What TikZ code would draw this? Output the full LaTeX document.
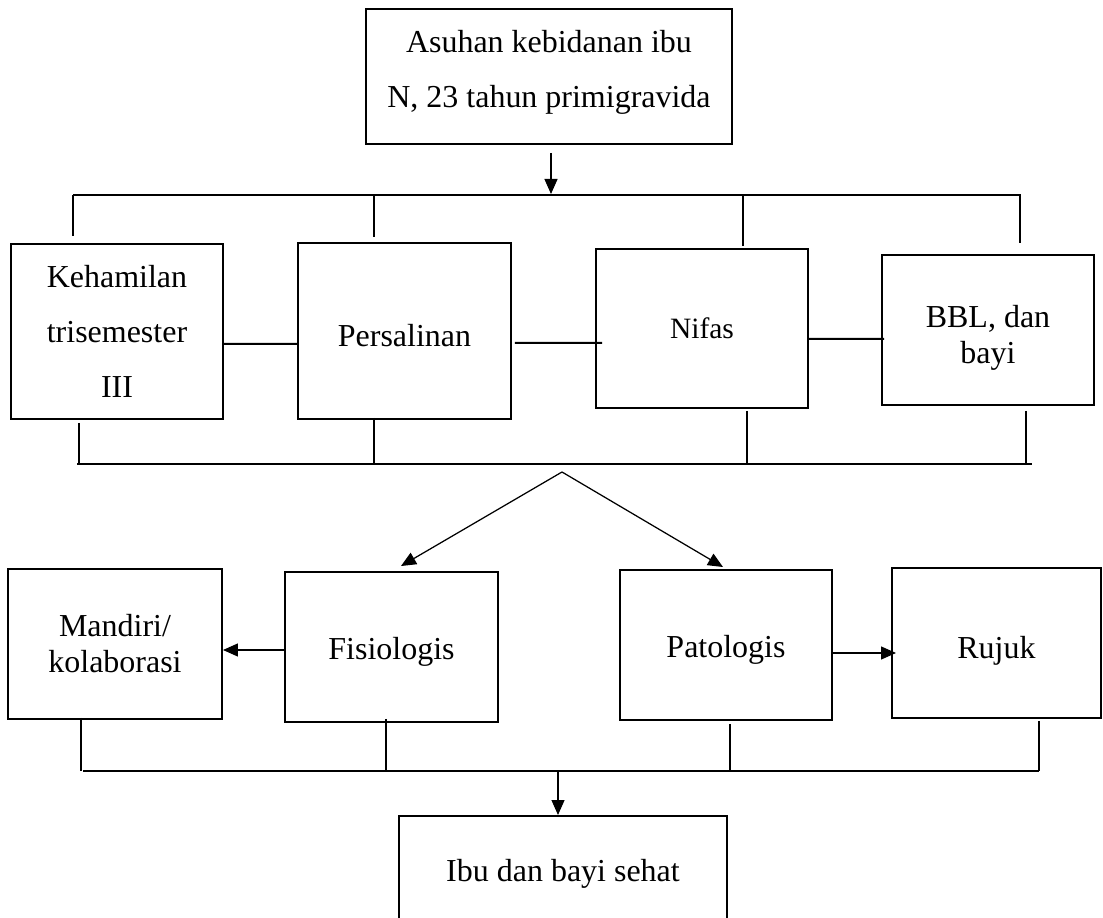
\documentclass[tikz,border=0pt]{standalone}
\usepackage{fontspec}
\setmainfont{Liberation Serif}
\usetikzlibrary{arrows.meta,calc}

\begin{document}
\begin{tikzpicture}[x=0.02cm,y=-0.02cm,
	box/.style={draw, line width=0.04cm, inner sep=0pt, align=center, minimum height=3cm, font=\fontsize{18.2pt}{20.5pt}\selectfont},
	tall/.style={font=\fontsize{18.2pt}{31.3pt}\selectfont},
	bus/.style={line width=0.022cm},
	link/.style={line width=0.04cm},
	arr/.style={line width=0.025cm, -{Triangle[length=0.3cm,width=0.26cm]}}]
	
	\clip (0,0) rectangle (1103,918);
	
	% Top box
	\node[box, tall, minimum width=7.32cm, minimum height=2.7cm, text depth=0.3cm] (asuhan) at (549,76.5) {Asuhan kebidanan ibu\\N, 23 tahun primigravida};
	
	% Row 1
	\node[box, tall, minimum width=4.24cm, minimum height=3.5cm] (hamil) at (117,331.5) {Kehamilan\\trisemester\\III};
	\node[box, minimum width=4.26cm, minimum height=3.52cm, text height=0.63cm] (salin) at (404.5,331) {Persalinan};
	\node[box, minimum width=4.24cm, minimum height=3.18cm, font=\fontsize{16.8pt}{20pt}\selectfont] (nifas) at (702,328.5) {Nifas};
	\node[box, minimum width=4.24cm, text height=1.46cm] (bbl) at (988,330) {BBL, dan\\bayi};
	
	\draw[link] ($(hamil.east)+(0,12.5)$) -- ($(salin.west)+(0,13)$);
	\draw[link] ($(salin.east)+(3,12)$) -- ($(nifas.west)+(7,14.5)$);
	\draw[link] ($(nifas.east)+(0,10.5)$) -- ($(bbl.west)+(3,9)$);
	
	% Upper bus
	\coordinate (busA-l) at (73,195);
	\coordinate (busA-r) at (1021,195);
	\draw[bus] (busA-l) -- (busA-r);
	\draw[arr] ($(asuhan.south)+(2,8)$) -- ($(asuhan.south |- busA-l)+(2,-1)$);
	\foreach \x/\b/\g in {73/hamil/7, 374/salin/5, 743/nifas/2, 1020/bbl/11}
		\draw[bus] (\x,195) -- ($(\x,0 |- \b.north)+(0,-\g)$);
	
	% Middle bus
	\coordinate (busB-l) at (77,464);
	\coordinate (busB-r) at (1032,464);
	\draw[bus] (busB-l) -- (busB-r);
	\foreach \x/\b/\g in {79/hamil/3, 374/salin/-2, 747/nifas/2, 1026/bbl/5}
		\draw[bus] ($(\x,0 |- \b.south)+(0,\g)$) -- (\x,464);
	
	% Row 2
	\node[box, minimum width=4.28cm] (mandiri) at (115,644) {Mandiri/\\kolaborasi};
	\node[box, minimum width=4.26cm, text height=0.635cm] (fisio) at (391.5,647) {Fisiologis};
	\node[box, minimum width=4.24cm, text height=0.635cm] (pato) at (726,645) {Patologis};
	\node[box, minimum width=4.18cm, text height=0.755cm] (rujuk) at (996.5,643) {Rujuk};
	
	\coordinate (apex) at (562,472);
	\draw[arr] (apex) -- ($(fisio.north)+(9.5,-5)$);
	\draw[arr] (apex) -- ($(pato.north)+(-3,-2)$);
	\draw[arr] ($(fisio.west)+(0,3)$) -- ($(mandiri.east)+(0,6)$);
	\draw[arr] ($(pato.east)+(0,8)$) -- ($(rujuk.west)+(5,10)$);
	
	% Lower bus
	\coordinate (busC-l) at (83,771);
	\coordinate (busC-r) at (1039,771);
	\draw[bus] (busC-l) -- (busC-r);
	\foreach \x/\b/\g in {81/mandiri/-2, 386/fisio/-4, 730/pato/3, 1039/rujuk/2}
		\draw[bus] ($(\x,0 |- \b.south)+(0,\g)$) -- (\x,771);
	
	% Result
	\node[box, minimum width=6.56cm, minimum height=2.16cm, text height=0.6cm] (sehat) at (563,870) {Ibu dan bayi sehat};
	\draw[arr] ($(sehat.north)+(-5,-43)$) -- ($(sehat.north)+(-5,0)$);
\end{tikzpicture}
\end{document}
